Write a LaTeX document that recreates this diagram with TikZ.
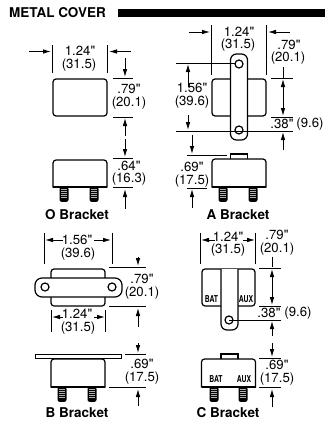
\documentclass[tikz,border=0pt]{standalone}
\usepackage{fontspec}
\setmainfont{TeX Gyre Heros}[Ligatures=TeXOff]
\usetikzlibrary{arrows.meta}
\tikzset{>={Latex[width=4.5pt,length=8pt]}}
\tikzset{
  dimline/.style={line width=0.6pt},
  dimarrow/.style={->,line width=0.8pt},
  outline/.style={line width=1.2pt,fill=white,rounded corners=3pt},
  dimtext/.style={font=\fontsize{13.2}{14}\selectfont,inner sep=0pt},
  caption/.style={font=\fontsize{13.5}{14}\selectfont\bfseries,inner sep=0pt},
  termtext/.style={font=\fontsize{9.5}{10}\selectfont\bfseries,inner sep=0pt,xscale=0.72}
}
\newcommand{\stud}[2]{%
  \begin{scope}[shift={(#1,#2)}]
    \fill[rounded corners=2pt] (-0.5,-1) rectangle (8.5,13.8);
    \foreach \y in {1,3,...,9}
      \draw[line width=1pt,black!30] (1.2,\y) -- (6.8,\y);
  \end{scope}
}
\newcommand{\case}[3]{%
  \draw[line width=1.2pt,fill=white] (#1+54,#3) -- (#1,#3) [rounded corners=3pt] -- (#1,#2) -- (#1+54,#2) [sharp corners] -- cycle;
  \draw[line width=1.7pt] (#1,#3) -- (#1+54,#3);
}
\begin{document}
\begin{tikzpicture}[x=1pt,y=-1pt]
  \useasboundingbox (0,0) rectangle (325,423);

  % heading
  \node[caption,anchor=west] (title) at (9,13) {METAL COVER};
  \fill (118,8.5) rectangle (325,16.5);

  % O bracket
  \draw[outline] (53,79) rectangle (107,116);
  \stud{60}{188}
  \stud{90}{188}
  \case{53}{160}{187}
  \draw[dimline] (52,45) -- (52,73);
  \draw[dimline] (107.5,45) -- (107.5,73);
  \draw[dimarrow] (29,51.5) -- (51,51.5);
  \draw[dimarrow] (131,51.5) -- (109,51.5);
  \draw[dimline] (113,78) -- (133,78);
  \draw[dimline] (113,117) -- (133,117);
  \draw[dimline] (113,158) -- (133,158);
  \draw[dimline] (113,187.5) -- (133,187.5);
  \draw[dimarrow] (125,58) -- (125,77);
  \draw[dimarrow] (125,136) -- (125,118);
  \draw[dimarrow] (125,139) -- (125,157);
  \draw[dimarrow] (125,209) -- (125,189);
  \node[dimtext] (olen) at (80,51) {1.24"};
  \node[dimtext] (olenmm) at (79,65) {(31.5)};
  \node[dimtext] (owid) at (129,89) {.79"};
  \node[dimtext] (owidmm) at (129,103) {(20.1)};
  \node[dimtext] (ohgt) at (129,165.5) {.64"};
  \node[dimtext] (ohgtmm) at (129,179) {(16.3)};
  \node[caption] (olabel) at (77,215) {O Bracket};

  % A bracket
  \draw[outline] (212,79) rectangle (266,116);
  \draw[outline,rounded corners=6pt] (230.5,54) rectangle (247.5,140);
  \draw[line width=1.2pt,fill=white] (239,64) circle (4);
  \draw[line width=1.2pt,fill=white] (239,130) circle (4);
  \draw[line width=1.2pt,fill=white] (230.5,159) -- (230.5,154) -- (247.5,154) -- (247.5,159);
  \stud{219}{188}
  \stud{249}{188}
  \case{212}{159}{187}
  \draw[dimline] (211,25) -- (211,75);
  \draw[dimline] (266.5,25) -- (266.5,75);
  \draw[dimarrow] (189,32) -- (210,32);
  \draw[dimarrow] (290,32) -- (268,32);
  \draw[dimline] (176,63) -- (235,63);
  \draw[dimline] (176,131) -- (293,131);
  \draw[dimline] (271,78) -- (293,78);
  \draw[dimline] (271,117) -- (293,117);
  \draw[dimline] (283,67) -- (283,78);
  \draw[dimline] (187,155) -- (227,155);
  \draw[dimline] (187,188) -- (207,188);
  \draw[dimarrow] (188,87) -- (188,64);
  \draw[dimarrow] (188,115) -- (188,130);
  \draw[<->,line width=0.8pt] (283,79) -- (283,116);
  \draw[dimarrow] (283,150) -- (283,132);
  \draw[dimarrow] (192,135) -- (192,154);
  \draw[dimarrow] (192,208) -- (192,189);
  \node[dimtext] (alen) at (239,31.5) {1.24"};
  \node[dimtext] (alenmm) at (238,45.5) {(31.5)};
  \node[dimtext] (awid) at (289,44.5) {.79"};
  \node[dimtext] (awidmm) at (288,58) {(20.1)};
  \node[dimtext] (aspan) at (192,88) {1.56"};
  \node[dimtext] (aspanmm) at (192,102) {(39.6)};
  \node[dimtext] (ahole) at (282,124) {.38"};
  \node[dimtext] (aholemm) at (310,124) {(9.6)};
  \node[dimtext] (ahgt) at (192,167) {.69"};
  \node[dimtext] (ahgtmm) at (192,181) {(17.5)};
  \node[caption] (alabel) at (238,215) {A Bracket};

  % B bracket
  \draw[outline] (51,269) rectangle (105,306);
  \draw[outline,rounded corners=7pt] (35,278) rectangle (122,297);
  \draw[line width=1.2pt,fill=white] (45,287) circle (4);
  \draw[line width=1.2pt,fill=white] (112,287) circle (4);
  \draw[line width=0.9pt,fill=white] (35,354) rectangle (121,358);
  \stud{58}{388}
  \stud{88}{388}
  \case{51}{359}{387}
  \draw[dimline] (44.5,233) -- (44.5,264);
  \draw[dimline] (112,233) -- (112,264);
  \draw[dimarrow] (63,240) -- (45,240);
  \draw[dimarrow] (94,240) -- (111,240);
  \draw[dimline] (51,310) -- (51,332);
  \draw[dimline] (105.5,310) -- (105.5,332);
  \draw[dimarrow] (63,317) -- (52,317);
  \draw[dimarrow] (94,317) -- (105,317);
  \draw[dimline] (109,267) -- (146,267);
  \draw[dimline] (109,306.5) -- (146,306.5);
  \draw[dimline] (125,354) -- (146,354);
  \draw[dimline] (109,387.5) -- (146,387.5);
  \draw[dimarrow] (138,257) -- (138,266);
  \draw[dimarrow] (138,327) -- (138,308);
  \draw[dimarrow] (138,343) -- (138,353);
  \draw[dimarrow] (138,406) -- (138,389);
  \node[dimtext] (bspan) at (77,240) {1.56"};
  \node[dimtext] (bspanmm) at (78,254) {(39.6)};
  \node[dimtext] (bwid) at (142,279) {.79"};
  \node[dimtext] (bwidmm) at (142,293) {(20.1)};
  \node[dimtext] (blen) at (77,314) {1.24"};
  \node[dimtext] (blenmm) at (78,328) {(31.5)};
  \node[dimtext] (bhgt) at (142,364) {.69"};
  \node[dimtext] (bhgtmm) at (142,378) {(17.5)};
  \node[caption] (blabel) at (77,413) {B Bracket};

  % C bracket
  \draw[outline] (202,269) rectangle (255,306);
  \draw[line width=1.2pt,fill=white,rounded corners=6pt] (221,269) -- (221,330) -- (238,330) -- (238,269);
  \draw[line width=1.2pt,fill=white] (229,320) circle (4);
  \draw[line width=1.2pt,fill=white] (221,359) -- (221,354) -- (238,354) -- (238,359);
  \stud{210}{388}
  \stud{239}{388}
  \case{201.5}{359}{387}
  \draw[dimline] (200.5,233) -- (200.5,264);
  \draw[dimline] (255.5,233) -- (255.5,264);
  \draw[dimarrow] (215,240) -- (201,240);
  \draw[dimarrow] (243,240) -- (255,240);
  \draw[dimline] (229,320) -- (281,320);
  \draw[dimline] (259,268) -- (281,268);
  \draw[dimline] (259,306) -- (281,306);
  \draw[dimline] (272,257) -- (272,267);
  \draw[dimline] (259,358) -- (281,358);
  \draw[dimline] (259,387.5) -- (281,387.5);
  \draw[<->,line width=0.8pt] (272,269) -- (272,305);
  \draw[dimarrow] (272,336) -- (272,321);
  \draw[dimarrow] (272,343) -- (272,357);
  \draw[dimarrow] (272,407) -- (272,389);
  \node[dimtext] (clen) at (228,236.5) {1.24"};
  \node[dimtext] (clenmm) at (228,250.5) {(31.5)};
  \node[dimtext] (cwid) at (277,235) {.79"};
  \node[dimtext] (cwidmm) at (277,249) {(20.1)};
  \node[dimtext] (chole) at (269,313) {.38"};
  \node[dimtext] (cholemm) at (298,313) {(9.6)};
  \node[dimtext] (chgt) at (277,365) {.69"};
  \node[dimtext] (chgtmm) at (277,379) {(17.5)};
  \node[termtext] (cbat) at (211.5,299) {BAT};
  \node[termtext] (caux) at (246,299) {AUX};
  \node[termtext] (sbat) at (216,379) {BAT};
  \node[termtext] (saux) at (244,379) {AUX};
  \node[caption] (clabel) at (228,413) {C Bracket};
\end{tikzpicture}
\end{document}
